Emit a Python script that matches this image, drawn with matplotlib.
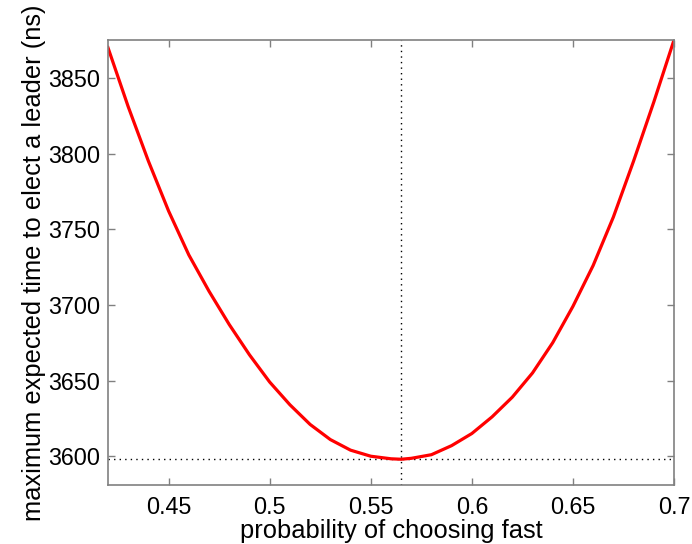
import numpy as np
import matplotlib
matplotlib.use('Agg')
import matplotlib.pyplot as plt

plt.rcParams['font.family'] = ['Liberation Sans', 'DejaVu Sans']

# probability of choosing fast vs. max expected time (ns)
prob = [0.42, 0.43, 0.44, 0.45, 0.46, 0.47, 0.48, 0.49, 0.50, 0.51,
        0.52, 0.53, 0.54, 0.55, 0.56, 0.565, 0.57, 0.58, 0.59, 0.60,
        0.61, 0.62, 0.63, 0.64, 0.65, 0.66, 0.67, 0.68, 0.69, 0.70]
max_time = [3870, 3831, 3795, 3762, 3733, 3709, 3687, 3667, 3649, 3634,
            3621, 3611, 3604, 3600, 3598.3, 3598, 3598.6, 3601, 3607, 3615,
            3626, 3639, 3655, 3675, 3699, 3726, 3758, 3795, 3834, 3875]

best_prob = 0.565
best_time = 3598

xticks = [0.45, 0.5, 0.55, 0.6, 0.65, 0.7]
xticklabels = ['0.45', '0.5', '0.55', '0.6', '0.65', '0.7']
yticks = [3600, 3650, 3700, 3750, 3800, 3850]

fig = plt.figure(figsize=(6.92, 5.44), dpi=100)
ax = fig.add_axes([0.156, 0.1085, 0.818, 0.818])

ax.axvline(best_prob, color='black', linestyle=(0, (1, 3)), linewidth=1)
ax.axhline(best_time, color='black', linestyle=(0, (1, 3)), linewidth=1)
ax.plot(prob, max_time, color='red', linewidth=2.3)

ax.set_xlim(0.42, 0.70)
ax.set_ylim(3581, 3875)
ax.set_xticks(xticks)
ax.set_xticklabels(xticklabels)
ax.set_yticks(yticks)

for s in ax.spines.values():
    s.set_color('#808080')
    s.set_linewidth(1.2)
ax.tick_params(direction='in', length=5, width=1, color='#808080',
               labelsize=16.8, top=True, right=True)
ax.tick_params(axis='x', pad=8)
ax.tick_params(axis='y', pad=5.5)

ax.set_xlabel('probability of choosing fast', fontsize=18.4)
ax.set_ylabel('maximum expected time to elect a leader (ns)', fontsize=18.4)
ax.xaxis.set_label_coords(0.5, -0.076)
ax.yaxis.set_label_coords(-0.11, 0.5)

fig.savefig('out.png', dpi=100)
